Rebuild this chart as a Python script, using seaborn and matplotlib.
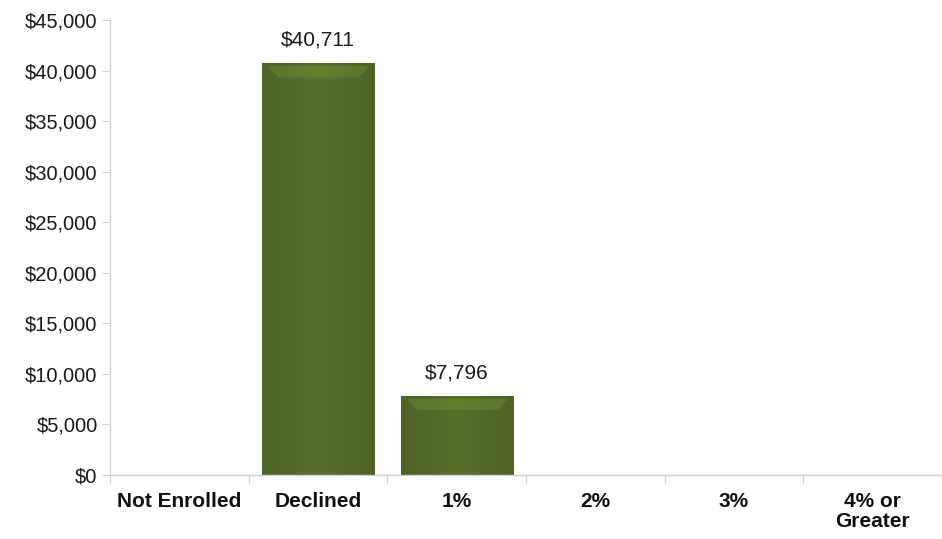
import matplotlib
matplotlib.use("Agg")
import matplotlib.pyplot as plt
import numpy as np
import pandas as pd
import seaborn as sns
from matplotlib.ticker import FuncFormatter, FixedLocator

categories = ["Not Enrolled", "Declined", "1%", "2%", "3%", "4% or\nGreater"]
amounts = [0, 40711, 7796, 0, 0, 0]
value_labels = ["", "$40,711", "$7,796", "", "", ""]
y_ticks = [0, 5000, 10000, 15000, 20000, 25000, 30000, 35000, 40000, 45000]

df = pd.DataFrame({"category": categories, "amount": amounts})

sns.set_theme(style="white")
plt.rcParams["font.family"] = ["Liberation Sans", "DejaVu Sans"]

fig = plt.figure(figsize=(9.42, 5.39), dpi=100)
ax = fig.add_axes([0.1168, 0.1187, 0.8832, 0.8443])

bar_color = "#566f2b"
sns.barplot(data=df, x="category", y="amount", color=bar_color, width=0.81,
            saturation=1, ax=ax, edgecolor="#3c4d1d", linewidth=0.6)

# bevelled shading on each bar: lighter band under the top edge,
# slightly darker toward the sides
for patch, val in zip(ax.patches, amounts):
    if val <= 0:
        continue
    x0, y0 = patch.get_x(), patch.get_y()
    w, h = patch.get_width(), patch.get_height()
    ny, nx = 400, 120
    yy = np.linspace(0, 1, ny)[:, None]
    xx = np.linspace(0, 1, nx)[None, :]
    base = np.array([0x56, 0x6f, 0x2b]) / 255.0
    bar_px = h / 45000 * 455
    top_frac = 14.0 / bar_px
    px_x = xx * (w / 6 * 832)  # pixel position across bar
    px_y = (1 - yy) * bar_px   # pixel distance from top
    side = np.minimum(xx, 1 - xx)
    shade = np.broadcast_to(1.0 - 0.10 * (1 - np.clip(side / 0.5, 0, 1)),
                            (ny, nx)).copy()
    dist_side = np.minimum(px_x, w / 6 * 832 - px_x)
    bevel = (px_y < 14) & (px_y > 3) & (dist_side > px_y + 2)
    shade[bevel] *= 1.16
    img = np.clip(base[None, None, :] * shade[:, :, None], 0, 1)
    im = ax.imshow(img, extent=[x0, x0 + w, y0, y0 + h], origin="lower",
                   aspect="auto", zorder=patch.get_zorder() + 0.1,
                   interpolation="bilinear")
    im.set_clip_path(patch)

for i, (val, lab) in enumerate(zip(amounts, value_labels)):
    if lab:
        ax.text(i, val + 1400, lab, ha="center", va="bottom",
                fontsize=15, color="#1a1a1a")

ax.set_xlim(-0.5, 5.5)
ax.set_ylim(0, 45000)
ax.set_yticks(y_ticks)
ax.yaxis.set_major_formatter(FuncFormatter(lambda v, _: f"${v:,.0f}"))
ax.set_xlabel("")
ax.set_ylabel("")

ax.xaxis.set_minor_locator(FixedLocator(np.arange(-0.5, 6, 1)))
ax.tick_params(axis="x", which="major", length=0, pad=12, labelsize=15,
               colors="#111111")
ax.tick_params(axis="x", which="minor", length=6, width=0.8,
               color="#d0d0d0", direction="out", bottom=True)
ax.tick_params(axis="y", which="major", length=6, width=0.8,
               color="#d0d0d0", direction="out", left=True, pad=3,
               labelsize=14.5, labelcolor="#1a1a1a")
for lbl in ax.get_xticklabels():
    lbl.set_fontweight("bold")
    lbl.set_linespacing(1.1)
    lbl.set_verticalalignment("top")

for s in ["top", "right"]:
    ax.spines[s].set_visible(False)
for s in ["left", "bottom"]:
    ax.spines[s].set_color("#d0d0d0")
    ax.spines[s].set_linewidth(1.0)

fig.savefig("out.png", dpi=100, facecolor="white")
